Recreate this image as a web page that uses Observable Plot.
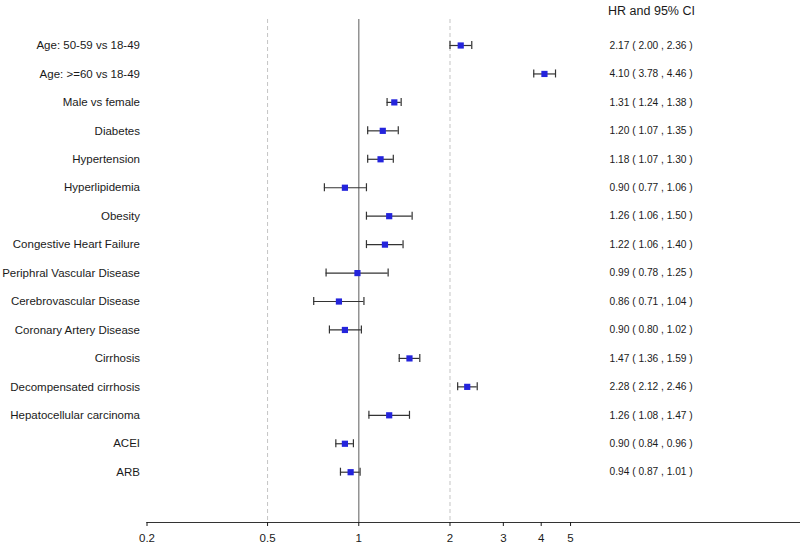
<!DOCTYPE html>
<html>
<head>
<meta charset="utf-8">
<script src="https://cdn.jsdelivr.net/npm/d3@7"></script>
<script src="https://cdn.jsdelivr.net/npm/@observablehq/plot@0.6"></script>
<style>
  html, body { margin: 0; padding: 0; background: #fff; }
  #chart svg { display: block; }
</style>
</head>
<body>
<div id="chart"></div>
<script>
const labels = [
  "Age: 50-59 vs 18-49",
  "Age: >=60 vs 18-49",
  "Male vs female",
  "Diabetes",
  "Hypertension",
  "Hyperlipidemia",
  "Obesity",
  "Congestive Heart Failure",
  "Periphral Vascular Disease",
  "Cerebrovascular Disease",
  "Coronary Artery Disease",
  "Cirrhosis",
  "Decompensated cirrhosis",
  "Hepatocellular carcinoma",
  "ACEI",
  "ARB"
];
const hr    = [2.17, 4.10, 1.31, 1.20, 1.18, 0.90, 1.26, 1.22, 0.99, 0.86, 0.90, 1.47, 2.28, 1.26, 0.90, 0.94];
const lower = [2.00, 3.78, 1.24, 1.07, 1.07, 0.77, 1.06, 1.06, 0.78, 0.71, 0.80, 1.36, 2.12, 1.08, 0.84, 0.87];
const upper = [2.36, 4.46, 1.38, 1.35, 1.30, 1.06, 1.50, 1.40, 1.25, 1.04, 1.02, 1.59, 2.46, 1.47, 0.96, 1.01];
const xTicks = [0.2, 0.5, 1, 2, 3, 4, 5];
const dashedRefs = [0.5, 2];
const nullRef = [1];
const headerText = "HR and 95% CI";

const data = labels.map((label, i) => ({label, hr: hr[i], lo: lower[i], hi: upper[i]}));
const fmt = d => `${d.hr.toFixed(2)} ( ${d.lo.toFixed(2)} , ${d.hi.toFixed(2)} )`;

const chart = Plot.plot({
  width: 800,
  height: 544,
  marginLeft: 146.5,
  marginRight: 0,
  marginTop: 19,
  marginBottom: 22,
  style: {fontFamily: "'Liberation Sans', Arial, sans-serif", fontSize: "11.5px", background: "white", color: "#1a1a1a"},
  x: {type: "log", domain: [0.2, 28.7]},
  y: {type: "point", domain: labels, range: [45, 471.7], padding: 0, round: false},
  marks: [
    Plot.ruleX(dashedRefs, {stroke: "#c4c4c4", strokeWidth: 1, strokeDasharray: "4,3"}),
    Plot.ruleX(nullRef, {stroke: "#8a8a8a", strokeWidth: 1.4}),
    Plot.frame({anchor: "bottom", stroke: "#333", strokeWidth: 1.2}),
    Plot.axisX({ticks: xTicks, tickSize: 4, tickPadding: 7, tickFormat: d => String(d), fontSize: 11.5, label: null}),
    Plot.axisY({tickSize: 0, tickPadding: 7, fontSize: 11.5, label: null}),
    Plot.ruleY(data, {y: "label", x1: "lo", x2: "hi", stroke: "#333", strokeWidth: 1.2}),
    Plot.ruleX(data, {x: "lo", y1: "label", y2: "label", insetTop: -4, insetBottom: -4, stroke: "#333", strokeWidth: 1.2}),
    Plot.ruleX(data, {x: "hi", y1: "label", y2: "label", insetTop: -4, insetBottom: -4, stroke: "#333", strokeWidth: 1.2}),
    Plot.dot(data, {x: "hr", y: "label", symbol: "square", r: 3.5, fill: "#2424dc", stroke: "none"}),
    Plot.text(data, {y: "label", text: fmt, frameAnchor: "right", dx: -191, textAnchor: "start", fontSize: 10.2, fill: "#1a1a1a"}),
    Plot.text([headerText], {frameAnchor: "top-right", dx: -149, dy: -13, textAnchor: "middle", fontSize: 12.5, fill: "#1a1a1a"})
  ]
});
document.getElementById("chart").append(chart);
</script>
</body>
</html>
